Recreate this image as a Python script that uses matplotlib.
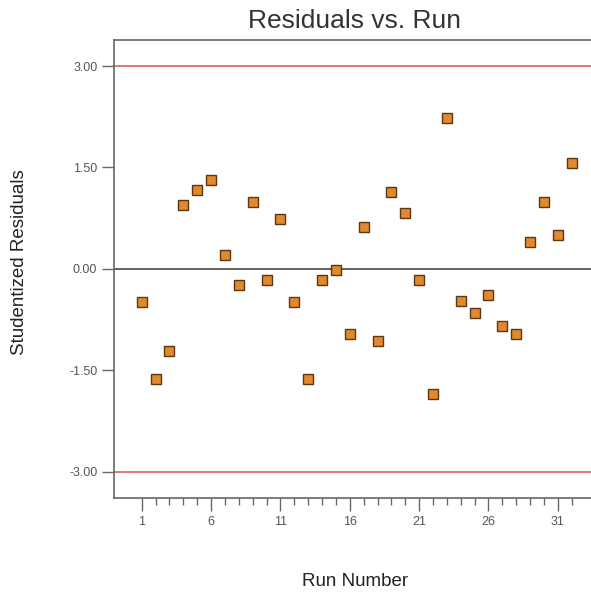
import matplotlib
matplotlib.use("Agg")
import matplotlib.pyplot as plt
from matplotlib.ticker import FixedLocator

plt.rcParams['font.family'] = ['Liberation Sans', 'DejaVu Sans']

# studentized residuals for each run, in run order
runs = list(range(1, 33))
residuals = [-0.49, -1.63, -1.21, 0.94, 1.17, 1.31, 0.21, -0.24,
             0.99, -0.16, 0.73, -0.49, -1.63, -0.16, -0.01, -0.96,
             0.62, -1.07, 1.13, 0.82, -0.16, -1.85, 2.23, -0.48,
             -0.65, -0.38, -0.85, -0.97, 0.40, 0.99, 0.50, 1.56]
limit = 3.0
y_ticks = [3.0, 1.5, 0.0, -1.5, -3.0]
x_ticks = [1, 6, 11, 16, 21, 26, 31]

fig = plt.figure(figsize=(5.91, 5.96), dpi=100)
ax = fig.add_axes([114 / 591, 1 - 497.7 / 596, 477 / 591, 457.7 / 596])

ax.axhline(limit, color='#e07878', lw=1.4, zorder=1)
ax.axhline(-limit, color='#e07878', lw=1.4, zorder=1)
ax.axhline(0, color='#606060', lw=1.4, zorder=1)

ax.plot(runs, residuals, ls='none', marker='s', ms=7.2,
        mfc='#e0892e', mec='#5c3612', mew=1.0, zorder=3)

ax.set_xlim(-1.0, 33.39)
ax.set_ylim(-3.385, 3.385)

ax.yaxis.set_major_locator(FixedLocator(y_ticks))
ax.set_yticklabels([f'{v:.2f}' for v in y_ticks])
ax.xaxis.set_major_locator(FixedLocator(x_ticks))
ax.xaxis.set_minor_locator(FixedLocator(runs))

ax.tick_params(axis='y', length=9, width=1.0, color='#666666',
               labelsize=9, labelcolor='#555555', pad=3)
ax.tick_params(axis='x', which='major', length=9, width=1.0, color='#666666',
               labelsize=9, labelcolor='#555555', pad=4)
ax.tick_params(axis='x', which='minor', length=5, width=1.0, color='#666666')

for side in ['left', 'bottom', 'top']:
    ax.spines[side].set_color('#666666')
    ax.spines[side].set_linewidth(1.2)
ax.spines['right'].set_visible(False)

fig.text(355 / 591, 1 - 21 / 596, 'Residuals vs. Run', ha='center', va='center',
         fontsize=19, color='#333333')
fig.text(355 / 591, 1 - 582 / 596, 'Run Number', ha='center', va='center',
         fontsize=13.5, color='#222222')
fig.text(20 / 591, 1 - 262 / 596, 'Studentized Residuals', ha='center', va='center',
         rotation=90, fontsize=13.5, color='#222222')

fig.savefig('out.png', dpi=100)
